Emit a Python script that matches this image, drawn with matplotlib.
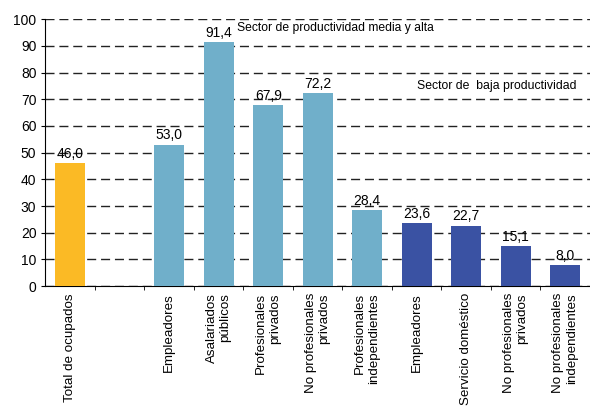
import matplotlib
matplotlib.use("Agg")
import matplotlib.pyplot as plt

plt.rcParams["font.family"] = ["Liberation Sans", "DejaVu Sans"]

categories = [
    "Total de ocupados", "",
    "Empleadores", "Asalariados\npúblicos", "Profesionales\nprivados",
    "No profesionales\nprivados", "Profesionales\nindependientes",
    "Empleadores", "Servicio doméstico", "No profesionales\nprivados",
    "No profesionales\nindependientes",
]
values = [46.0, None, 53.0, 91.4, 67.9, 72.2, 28.4, 23.6, 22.7, 15.1, 8.0]
groups = ["total", None, "media", "media", "media", "media", "media",
          "baja", "baja", "baja", "baja"]
group_colors = {"total": "#FBBA25", "media": "#70AFCA", "baja": "#3A52A3"}

fig = plt.figure(figsize=(5.9, 4.07), dpi=100)
ax = fig.add_axes([0.077, 0.297, 0.923, 0.656])

for i, (v, g) in enumerate(zip(values, groups)):
    if v is None:
        continue
    ax.bar(i, v, width=0.6, color=group_colors[g], zorder=3)
    ax.text(i, v + 0.8, f"{v:.1f}".replace(".", ","), ha="center", va="bottom",
            fontsize=10, zorder=4)

ax.set_xlim(-0.5, len(categories) - 0.5)
ax.set_ylim(0, 100)
ax.set_yticks(range(0, 101, 10))
ax.yaxis.grid(True, linestyle=(0, (6.5, 3.5)), color="#222222", linewidth=1.0,
              zorder=1)

# labels at bar centres, tick marks between slots
ax.set_xticks(range(len(categories)))
ax.set_xticklabels(categories, rotation=90, fontsize=9.6, va="top", ha="center",
                   multialignment="right")
ax.tick_params(axis="x", length=0, pad=5)
ax.set_xticks([i + 0.5 for i in range(len(categories) - 1)], minor=True)
ax.tick_params(axis="x", which="minor", length=3, direction="out")
ax.tick_params(axis="y", labelsize=10, length=3)

for s in ["top", "right"]:
    ax.spines[s].set_visible(False)

ax.text(3.36, 96.6, "Sector de productividad media y alta", fontsize=8.7,
        va="center")
ax.text(7.0, 75, "Sector de  baja productividad", fontsize=8.8, va="center")

fig.savefig("out.png", dpi=100)
